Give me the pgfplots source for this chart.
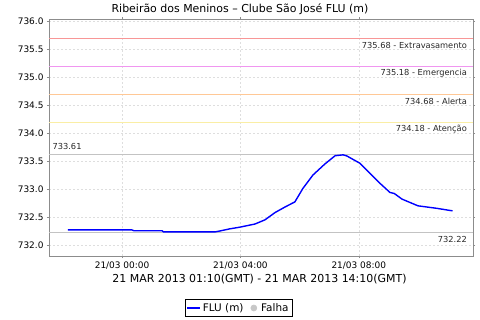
\documentclass[border=0pt]{standalone}
\usepackage{pgfplots}
\pgfplotsset{compat=1.18}
\usepackage{fontspec}
\setmainfont{DejaVu Sans}
\definecolor{cExtra}{RGB}{248,150,150}
\definecolor{cEmerg}{RGB}{240,150,240}
\definecolor{cAlert}{RGB}{255,200,150}
\definecolor{cAten}{RGB}{250,238,165}
\definecolor{cRef}{RGB}{195,195,195}
\definecolor{cGrid}{RGB}{222,222,222}
\definecolor{cAxis}{RGB}{140,140,140}
\begin{document}
\begin{tikzpicture}
\path[use as bounding box] (-49bp,-64bp) rectangle (431bp,256bp);
\begin{axis}[
  at={(0,0)}, anchor=south west,
  scale only axis, width=424bp, height=237bp,
  xmin=-2.47, xmax=11.86, ymin=731.804, ymax=736.036,
  xtick={0,4,8}, xticklabels={21/03 00:00,21/03 04:00,21/03 08:00},
  ytick={732,732.5,...,736},
  yticklabel style={/pgf/number format/.cd, fixed, fixed zerofill, precision=1, assume math mode=true},
  ticklabel style={font=\fontsize{9}{10}\selectfont, color=black},
  tick align=outside, major tick length=2bp, tick style={cAxis},
  axis line style={cAxis},
  grid=major, major grid style={cGrid, dash pattern=on 2bp off 2bp, line width=0.5bp},
  legend style={at={(0.447,-0.2194)}, anchor=center, draw=black, line width=0.6bp,
    font=\fontsize{10.5}{12}\selectfont, legend columns=2, inner sep=1.5bp},
  legend cell align=left,
  clip=true,
]
\addplot[draw=cExtra, line width=1bp, forget plot] coordinates {(-2.47,735.68) (11.86,735.68)};
\addplot[draw=cEmerg, line width=1bp, forget plot] coordinates {(-2.47,735.18) (11.86,735.18)};
\addplot[draw=cAlert, line width=1bp, forget plot] coordinates {(-2.47,734.68) (11.86,734.68)};
\addplot[draw=cAten, line width=1bp, forget plot] coordinates {(-2.47,734.18) (11.86,734.18)};
\addplot[draw=cRef, line width=1bp, forget plot] coordinates {(-2.47,733.61) (11.86,733.61)};
\addplot[draw=cRef, line width=1bp, forget plot] coordinates {(-2.47,732.22) (11.86,732.22)};
\addplot[blue, line width=1.4bp, legend image code/.code={\draw[blue, line width=1.4bp] (0bp,0bp) -- (13bp,0bp);}] coordinates {
(-1.833,732.27) (0.33,732.27) (0.40,732.255) (1.35,732.255) (1.40,732.235)
(3.15,732.235) (3.30,732.25) (3.65,732.29) (3.99,732.32) (4.49,732.375)
(4.83,732.45) (5.17,732.58) (5.51,732.68) (5.84,732.77) (6.11,733.01)
(6.45,733.25) (6.86,733.45) (7.20,733.595) (7.47,733.61) (7.60,733.59)
(7.80,733.53) (8.04,733.46) (8.38,733.28) (8.72,733.10) (9.05,732.94)
(9.20,732.92) (9.46,732.82) (10.0,732.70) (10.64,732.655) (11.167,732.61)
};
\addlegendentry{FLU (m)\kern5bp\null}
\addlegendimage{legend image code/.code={\fill[black!22] (4bp,0bp) circle (3bp);}}
\addlegendentry{\kern2bp Falha}
\begin{scope}[every node/.style={font=\fontsize{8.3}{9}\selectfont, text=black!85, inner sep=0pt}]
\node[anchor=east] at (rel axis cs:0.986,0.89) {735.68 - Extravasamento};
\node[anchor=east] at (rel axis cs:0.986,0.772) {735.18 - Emergencia};
\node[anchor=east] at (rel axis cs:0.986,0.654) {734.68 - Alerta};
\node[anchor=east] at (rel axis cs:0.986,0.536) {734.18 - Atenção};
\node[anchor=west] at (rel axis cs:0.008,0.460) {733.61};
\node[anchor=east] at (rel axis cs:0.986,0.068) {732.22};
\end{scope}
\end{axis}
\node[anchor=base, font=\fontsize{11}{13}\selectfont] at (191bp,243bp) {Ribeirão dos Meninos – Clube São José FLU (m)};
\node[anchor=base, font=\fontsize{11}{13}\selectfont] at (210.5bp,-26bp) {21 MAR 2013 01:10(GMT) - 21 MAR 2013 14:10(GMT)};
\end{tikzpicture}
\end{document}
